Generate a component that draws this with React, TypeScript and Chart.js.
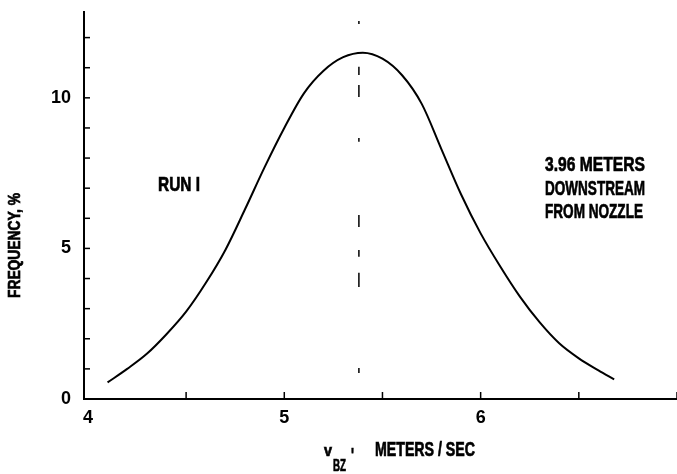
import React, { useEffect, useRef } from "react";
import { Chart, registerables } from "chart.js";

Chart.register(...registerables);

// Velocity (m/s) and frequency (%)
const velocity = [4.1, 4.2, 4.3, 4.4, 4.5, 4.6, 4.7, 4.8, 4.9, 5.0, 5.1, 5.2, 5.3, 5.4, 5.5, 5.6, 5.7, 5.8, 5.9, 6.0, 6.1, 6.2, 6.3, 6.4, 6.5, 6.6, 6.68];
const frequency = [0.55, 1.0, 1.5, 2.15, 2.9, 3.85, 4.95, 6.3, 7.7, 9.0, 10.15, 10.9, 11.35, 11.5, 11.3, 10.75, 9.8, 8.3, 6.8, 5.5, 4.4, 3.4, 2.55, 1.85, 1.35, 0.95, 0.65];

// Broken vertical marker at the peak velocity: [top, bottom] of each dash (frequency units)
const peakVelocity = 5.38;
const peakMarkerSegments: [number, number][] = [
  [12.55, 12.45],
  [11.03, 10.76],
  [10.43, 10.03],
  [8.67, 8.54],
  [6.11, 5.71],
  [4.95, 4.72],
  [4.19, 3.72],
  [1.03, 0.86],
];

const xTickValues = [4, 4.5, 5, 5.5, 6, 6.5, 7];
const xLabeledTicks = [4, 5, 6];
const yTickValues = [0, 1, 2, 3, 4, 5, 6, 7, 8, 9, 10, 11, 12];
const yLabeledTicks = [0, 5, 10];

const FONT = "'Liberation Sans', Arial, sans-serif";

const inwardTicks = {
  id: "inwardTicks",
  afterDraw(chart: any) {
    const { ctx, chartArea, scales } = chart;
    ctx.save();
    ctx.strokeStyle = "#000";
    ctx.lineWidth = 1.5;
    scales.x.ticks.forEach((t: any, i: number) => {
      if (i === 0) return;
      const px = scales.x.getPixelForValue(t.value);
      ctx.beginPath();
      ctx.moveTo(px, chartArea.bottom);
      ctx.lineTo(px, chartArea.bottom - 7);
      ctx.stroke();
    });
    scales.y.ticks.forEach((t: any) => {
      if (t.value === 0) return;
      const py = scales.y.getPixelForValue(t.value);
      ctx.beginPath();
      ctx.moveTo(chartArea.left, py);
      ctx.lineTo(chartArea.left + 6, py);
      ctx.stroke();
    });
    ctx.restore();
  },
};

function drawFit(ctx: CanvasRenderingContext2D, text: string, x: number, y: number, width: number, size: number) {
  ctx.font = `bold ${size}px ${FONT}`;
  const w = ctx.measureText(text).width;
  const sx = w > 0 ? width / w : 1;
  ctx.save();
  ctx.translate(x, y);
  ctx.scale(sx, 1);
  ctx.lineWidth = 0.7;
  ctx.strokeStyle = "#000";
  ctx.fillText(text, 0, 0);
  ctx.strokeText(text, 0, 0);
  ctx.restore();
}

const textPlugin = {
  id: "texts",
  afterDraw(chart: any) {
    const { ctx } = chart;
    ctx.save();
    ctx.fillStyle = "#000";
    ctx.textBaseline = "middle";
    ctx.textAlign = "left";

    // Y title
    ctx.save();
    ctx.translate(16, 298);
    ctx.rotate(-Math.PI / 2);
    drawFit(ctx, "FREQUENCY, %", 0, 0, 105, 16);
    ctx.restore();

    // X title with subscript
    drawFit(ctx, "v", 324, 452, 8, 16);
    drawFit(ctx, "BZ", 333, 467, 13, 16);
    drawFit(ctx, "'", 351, 456, 3, 20);
    drawFit(ctx, "METERS / SEC", 375, 450, 100, 20);

    // Annotations
    drawFit(ctx, "RUN I", 158, 185, 42, 21);
    drawFit(ctx, "3.96 METERS", 545, 165, 100, 21);
    drawFit(ctx, "DOWNSTREAM", 545, 189, 100, 21);
    drawFit(ctx, "FROM NOZZLE", 545, 212, 98, 21);
    ctx.restore();
  },
};

export default function App() {
  const canvasRef = useRef<HTMLCanvasElement | null>(null);

  useEffect(() => {
    if (!canvasRef.current) return;
    const markerData: any[] = [];
    peakMarkerSegments.forEach(([a, b]) => {
      markerData.push({ x: peakVelocity, y: a });
      markerData.push({ x: peakVelocity, y: b });
      markerData.push({ x: peakVelocity, y: null });
    });

    const chart = new Chart(canvasRef.current, {
      type: "line",
      data: {
        datasets: [
          {
            data: velocity.map((v, i) => ({ x: v, y: frequency[i] })),
            borderColor: "#000",
            borderWidth: 2,
            pointRadius: 0,
            cubicInterpolationMode: "monotone",
            fill: false,
          },
          {
            data: markerData,
            borderColor: "#000",
            borderWidth: 1.5,
            pointRadius: 0,
            spanGaps: false,
            fill: false,
          },
        ],
      },
      options: {
        animation: false,
        responsive: false,
        layout: { padding: { top: 12, right: 0, left: 0, bottom: 0 } },
        plugins: { legend: { display: false }, tooltip: { enabled: false } },
        scales: {
          x: {
            type: "linear",
            min: 3.98,
            max: 7,
            afterBuildTicks: (s: any) => {
              s.ticks = xTickValues.map((v) => ({ value: v }));
            },
            afterFit: (s: any) => {
              s.height = 75;
              s.paddingLeft = 0;
              s.paddingRight = 0;
            },
            grid: { display: false, drawTicks: false },
            border: { display: true, color: "#000", width: 2 },
            ticks: {
              color: "#000",
              font: { family: FONT, size: 18, weight: "bold" },
              padding: 8,
              autoSkip: false,
              maxRotation: 0,
              callback: (v: any) => (xLabeledTicks.includes(Number(v)) ? String(v) : ""),
            },
          },
          y: {
            type: "linear",
            min: 0,
            max: 12.85,
            afterBuildTicks: (s: any) => {
              s.ticks = yTickValues.map((v) => ({ value: v }));
            },
            afterFit: (s: any) => {
              s.width = 84;
              s.paddingTop = 0;
              s.paddingBottom = 0;
            },
            grid: { display: false, drawTicks: false },
            border: { display: true, color: "#000", width: 2 },
            ticks: {
              color: "#000",
              font: { family: FONT, size: 18, weight: "bold" },
              padding: 13,
              autoSkip: false,
              callback: (v: any) => (yLabeledTicks.includes(Number(v)) ? String(v) : ""),
            },
          },
        },
      },
      plugins: [inwardTicks, textPlugin],
    } as any);

    return () => chart.destroy();
  }, []);

  return (
    <div style={{ position: "absolute", left: 0, top: 0, width: 677, height: 474, background: "#fff" }}>
      <canvas ref={canvasRef} width={677} height={474} style={{ display: "block" }} />
    </div>
  );
}
